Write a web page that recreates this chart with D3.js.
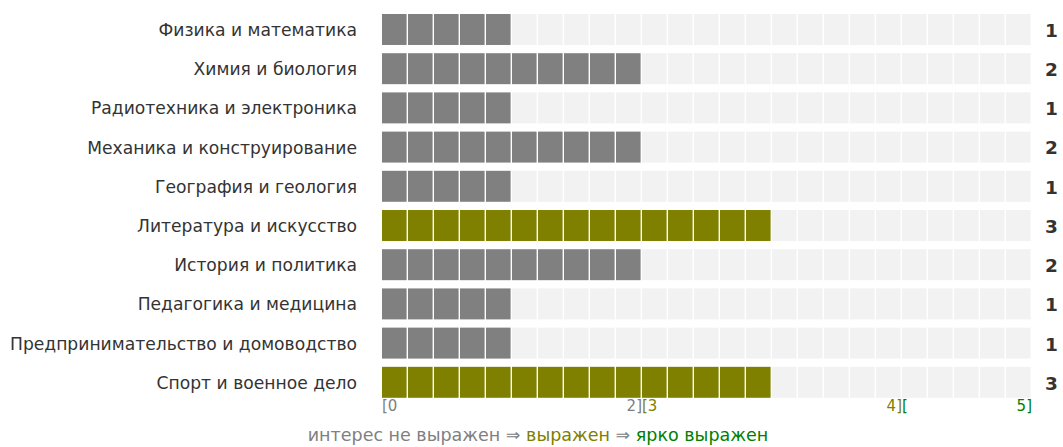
<!DOCTYPE html>
<html><head><meta charset="utf-8">
<script src="https://cdn.jsdelivr.net/npm/d3@7"></script>
<style>body{margin:0;background:#fff}svg{display:block}</style>
</head><body><svg id="c" width="1063" height="447"></svg>
<script>
const categories = ["Физика и математика","Химия и биология","Радиотехника и электроника","Механика и конструирование","География и геология","Литература и искусство","История и политика","Педагогика и медицина","Предпринимательство и домоводство","Спорт и военное дело"];
const values = [1,2,1,2,1,3,2,1,1,3];
const cellsPerUnit = 5;
const maxValue = 5;
const tickParts = [
  {v:0, text:"[0", anchor:"start", level:0},
  {v:2, text:"2]", anchor:"end", level:0},
  {v:2, text:"[3", anchor:"start", level:1},
  {v:4, text:"4]", anchor:"end", level:1},
  {v:4, text:"[", anchor:"start", level:2},
  {v:5, text:"5]", anchor:"end", level:2}
];
const legendParts = [{text:"интерес не выражен ⇒ ", level:0},{text:"выражен", level:1},{text:" ⇒ ", level:0},{text:"ярко выражен", level:2}];
const levelColors = ["#808080","#808000","#008000"];

const svg = d3.select("#c");
const font = "'DejaVu Sans', sans-serif";
const x = d3.scaleLinear().domain([0,maxValue]).range([382,1032]);
const y = d3.scaleBand().domain(categories).range([14,397.8]).paddingInner(0.21).paddingOuter(0);

const level = v => v >= 3 ? (v >= 4 ? 2 : 1) : 0;
const cells = d3.range(maxValue*cellsPerUnit);
const g = svg.append("g");
categories.forEach((c,i)=>{
  const v = values[i];
  const row = g.append("g");
  row.selectAll("rect").data(cells).join("rect")
    .attr("x", k => x(k/cellsPerUnit))
    .attr("y", y(c))
    .attr("width", x(1/cellsPerUnit)-x(0)-1.4)
    .attr("height", y.bandwidth())
    .attr("fill", k => k < v*cellsPerUnit ? levelColors[level(v)] : "#f2f2f2");
  svg.append("text").attr("x",357).attr("y",y(c)+y.bandwidth()/2).attr("dy","0.38em")
    .attr("text-anchor","end").attr("font-family",font).attr("font-size",17.15).attr("fill","#333").text(c);
  svg.append("text").attr("x",1045).attr("y",y(c)+y.bandwidth()/2).attr("dy","0.4em")
    .attr("font-family",font).attr("font-weight","bold").attr("font-size",18.5).attr("fill","#333").text(v);
});
svg.selectAll("text.tick").data(tickParts).join("text").attr("class","tick")
  .attr("x", d => x(d.v)).attr("y", 411).attr("text-anchor", d=>d.anchor)
  .attr("font-family",font).attr("font-size",15).attr("fill", d=>levelColors[d.level]).text(d=>d.text);
const lg = svg.append("text").attr("x",538).attr("y",441).attr("text-anchor","middle")
  .attr("font-family",font).attr("font-size",17.5);
lg.selectAll("tspan").data(legendParts).join("tspan").attr("fill",d=>levelColors[d.level]).text(d=>d.text);
</script></body></html>
